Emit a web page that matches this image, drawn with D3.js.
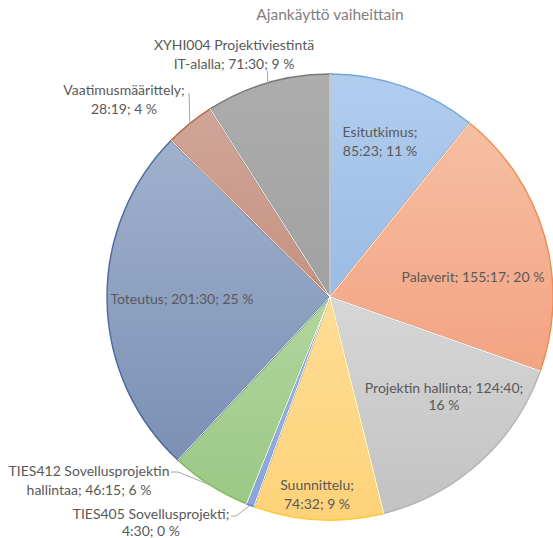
<!DOCTYPE html>
<html>
<head>
<meta charset="utf-8">
<script src="https://cdn.jsdelivr.net/npm/d3@7"></script>
<style>
  html, body { margin: 0; padding: 0; background: #fff; }
  svg { display: block; }
  text { font-family: Lato, "Open Sans", sans-serif; }
</style>
</head>
<body>
<div id="chart"></div>
<script>
// ---- data ----
const title = "Ajankäyttö vaiheittain";
const categories = [
  "Esitutkimus",
  "Palaverit",
  "Projektin hallinta",
  "Suunnittelu",
  "TIES405 Sovellusprojekti",
  "TIES412 Sovellusprojektin hallintaa",
  "Toteutus",
  "Vaatimusmäärittely",
  "XYHI004 Projektiviestintä IT-alalla"
];
const durations = ["85:23", "155:17", "124:40", "74:32", "4:30", "46:15", "201:30", "28:19", "71:30"];
const percents = [11, 20, 16, 9, 0, 6, 25, 4, 9];

// ---- styles ----
const fillTop    = ["#b2cdee", "#f6bfa3", "#d7d7d7", "#ffdd95", "#9fb6e7", "#b2d69d", "#9fb1cd", "#d0a698", "#adadad"];
const fillBottom = ["#9abbe5", "#f3a382", "#c2c2c2", "#fed279", "#8aa3dc", "#9bc885", "#7b90b4", "#c59181", "#a1a1a1"];
const strokeCol  = ["#6fa6da", "#ef8c4c", "#b3b3b3", "#ffc830", "#5a82cc", "#80b65c", "#4d6896", "#b06a48", "#7a7a7a"];

// ---- layout (label positions, line breaks, leader starts) ----
const labelLayout = [
  { x: 380, y: 131, brk: 1 },
  { x: 473, y: 276, brk: 0 },
  { x: 444, y: 387, brk: 3, lh: 17 },
  { x: 317, y: 484, brk: 1 },
  { x: 151, y: 513, brk: 2, lh: 17, leader: [[231, 516], [236, 516]] },
  { x: 89,  y: 470, brk: 2, leader: [[171, 472], [178, 472]] },
  { x: 182, y: 298, brk: 0 },
  { x: 124, y: 89,  brk: 1, leader: [[189, 93]] },
  { x: 234, y: 44,  brk: 2, leader: [[null, 71]] }
];

const W = 553, H = 538;
const cx = 330, cy = 297, R = 223;

const toMinutes = s => { const [h, m] = s.split(":").map(Number); return h * 60 + m; };
const data = categories.map((c, i) => ({ cat: c, dur: durations[i], pct: percents[i], v: toMinutes(durations[i]), i }));

const svg = d3.select("#chart").append("svg").attr("width", W).attr("height", H);
const defs = svg.append("defs");
data.forEach((d, i) => {
  const g = defs.append("linearGradient").attr("id", "g" + i)
    .attr("x1", 0).attr("y1", 0).attr("x2", 0).attr("y2", 1);
  g.append("stop").attr("offset", "0%").attr("stop-color", fillTop[i]);
  g.append("stop").attr("offset", "100%").attr("stop-color", fillBottom[i]);
});

// title
svg.append("text").attr("x", cx).attr("y", 14).attr("text-anchor", "middle")
  .attr("dominant-baseline", "central")
  .attr("font-size", 15.5).attr("fill", "#7f7f7f").text(title);

const pie = d3.pie().sort(null).value(d => d.v).startAngle(0).endAngle(2 * Math.PI);
const arcs = pie(data);
const arc = d3.arc().innerRadius(0).outerRadius(R);

const g = svg.append("g").attr("transform", `translate(${cx},${cy})`);
g.selectAll("path.slice").data(arcs).enter().append("path")
  .attr("class", "slice")
  .attr("d", arc)
  .attr("fill", (d, i) => `url(#g${i})`)
  .attr("stroke", (d, i) => strokeCol[i])
  .attr("stroke-width", 1.4)
  .attr("stroke-linejoin", "round");

// white separators
g.selectAll("line.sep").data(arcs).enter().append("line")
  .attr("class", "sep")
  .attr("x1", 0).attr("y1", 0)
  .attr("x2", d => R * Math.sin(d.startAngle))
  .attr("y2", d => -R * Math.cos(d.startAngle))
  .attr("stroke", "#fff").attr("stroke-width", 1);

// leader lines
const edgePt = d => {
  const a = (d.startAngle + d.endAngle) / 2;
  return [cx + R * Math.sin(a), cy - R * Math.cos(a)];
};
arcs.forEach((d, i) => {
  const L = labelLayout[i];
  if (!L.leader) return;
  const ep = edgePt(d);
  const pts = L.leader.map(p => [p[0] === null ? ep[0] : p[0], p[1]]);
  pts.push(ep);
  svg.append("path").attr("d", d3.line()(pts))
    .attr("fill", "none").attr("stroke", "#a6a6a6").attr("stroke-width", 1);
});

// labels
arcs.forEach((d, i) => {
  const L = labelLayout[i];
  const lineH = L.lh || 19;
  const words = (d.data.cat + "; " + d.data.dur + "; " + d.data.pct + "\u00a0%").split(" ");
  const lines = L.brk === 0 ? [words.join(" ")] : [words.slice(0, L.brk).join(" "), words.slice(L.brk).join(" ")];
  const t = svg.append("text").attr("text-anchor", "middle")
    .attr("font-size", 14).attr("fill", "#595959");
  lines.forEach((ln, k) => {
    t.append("tspan").attr("x", L.x).attr("y", L.y + k * lineH)
      .attr("dominant-baseline", "central").text(ln);
  });
});
</script>
</body>
</html>
